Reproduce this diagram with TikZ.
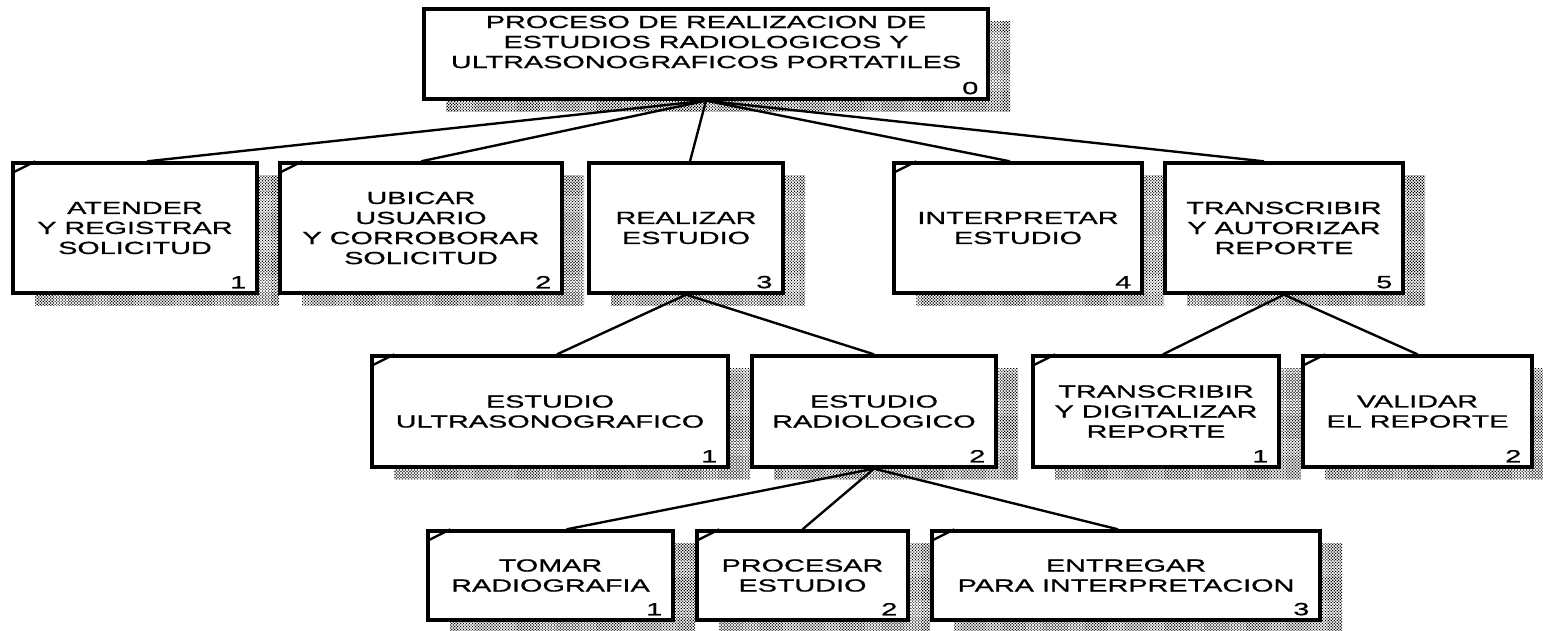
\documentclass[tikz,border=0pt]{standalone}
\usepackage{fontspec}
\setmainfont{Liberation Sans}[FakeStretch=1.64, FakeBold=0.9]
\usetikzlibrary{fit,patterns.meta}

\begin{document}
\begin{tikzpicture}[x=0.02cm, y=-0.02cm,
    boxline/.style={line width=1.9pt},
    actframe/.style={draw, boxline, fill=white, inner sep=0pt},
    link/.style={line width=1.35pt},
    boxshadow/.style={pattern={Dots[angle=45, distance=1.2pt, radius=0.46pt]}, pattern color=black},
    boxtext/.style={font=\fontsize{10}{11.4}\selectfont, align=center, inner sep=0pt},
    num/.style={font=\fontsize{10}{11.4}\selectfont, inner sep=0pt, anchor=south east}]
  \clip (0,0) rectangle (1543,631);

  % Define activity box macro
  % #1=name, #2=x1, #3=y1, #4=x2, #5=y2, #6=text, #7=number
  \newcommand{\actbox}[7]{%
    \fill[boxshadow] (#2+22,#3+13) rectangle (#4+22,#5+13);
    \node[actframe, fit={(#2,#3) (#4,#5)}] (#1) {};
    \node[boxtext] (#1-txt) at (#1.center) {#6};
    \node[num] (#1-num) at ([xshift=-0.24cm, yshift=0.12cm]#1.south east) {#7};
  }
  % corner mark of a leaf activity
  \newcommand{\leafmark}[1]{%
    \draw[link] ([yshift=-0.24cm]#1.north west) -- ([xshift=0.48cm]#1.north west);
  }

  % Root activity
  \fill[boxshadow] (446,22) rectangle (1010,112);
  \node[actframe, fit={(424,9) (988,99)}] (root) {};
  \node[boxtext] (root-txt) at (706,42) {PROCESO DE REALIZACION DE\\ESTUDIOS RADIOLOGICOS Y\\ULTRASONOGRAFICOS PORTATILES};
  \node[num] (root-num) at ([xshift=-0.22cm, yshift=0.12cm]root.south east) {0};

  % Level 1
  \actbox{atender}{13}{163}{257}{293}{ATENDER\\Y REGISTRAR\\SOLICITUD}{1}
  \actbox{ubicar}{280}{163}{562}{293}{UBICAR\\USUARIO\\Y CORROBORAR\\SOLICITUD}{2}
  \actbox{realizar}{589}{163}{783}{293}{REALIZAR\\ESTUDIO}{3}
  \actbox{interpretar}{894}{163}{1142}{293}{INTERPRETAR\\ESTUDIO}{4}
  \actbox{transcribir}{1165}{163}{1403}{293}{TRANSCRIBIR\\Y AUTORIZAR\\REPORTE}{5}

  % Level 2
  \actbox{ultrason}{372}{356}{728}{467}{ESTUDIO\\ULTRASONOGRAFICO}{1}
  \actbox{radiolog}{752}{356}{996}{467}{ESTUDIO\\RADIOLOGICO}{2}
  \actbox{transdig}{1033}{356}{1279}{467}{TRANSCRIBIR\\Y DIGITALIZAR\\REPORTE}{1}
  \actbox{validar}{1303}{356}{1532}{467}{VALIDAR\\EL REPORTE}{2}

  % Level 3
  \actbox{tomar}{428}{531}{673}{620}{TOMAR\\RADIOGRAFIA}{1}
  \actbox{procesar}{697}{531}{908}{620}{PROCESAR\\ESTUDIO}{2}
  \actbox{entregar}{932}{531}{1320}{620}{ENTREGAR\\PARA INTERPRETACION}{3}

  \leafmark{atender}
  \leafmark{ubicar}
  \leafmark{interpretar}
  \leafmark{ultrason}
  \leafmark{transdig}
  \leafmark{validar}
  \leafmark{tomar}
  \leafmark{procesar}
  \leafmark{entregar}

  % Connectors
  \draw[link] (root.south) -- ([xshift=0.24cm]atender.north);
  \draw[link] (root.south) -- (ubicar.north);
  \draw[link] (root.south) -- ([xshift=0.08cm]realizar.north);
  \draw[link] (root.south) -- ([xshift=-0.16cm]interpretar.north);
  \draw[link] (root.south) -- ([xshift=-0.4cm]transcribir.north);
  \draw[link] (realizar.south) -- ([xshift=0.14cm]ultrason.north);
  \draw[link] (realizar.south) -- (radiolog.north);
  \draw[link] (transcribir.south) -- ([xshift=0.14cm]transdig.north);
  \draw[link] (transcribir.south) -- (validar.north);
  \draw[link] (radiolog.south) -- ([xshift=0.32cm]tomar.north);
  \draw[link] (radiolog.south) -- (procesar.north);
  \draw[link] (radiolog.south) -- ([xshift=-0.16cm]entregar.north);
\end{tikzpicture}
\end{document}
